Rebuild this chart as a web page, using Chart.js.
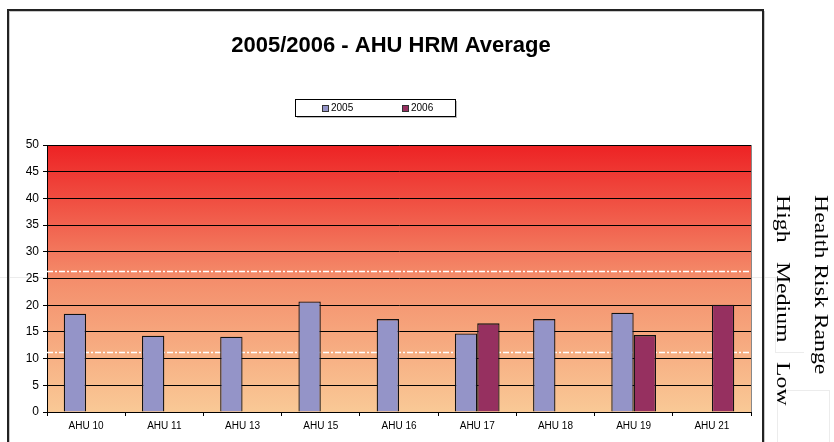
<!DOCTYPE html>
<html>
<head>
<meta charset="utf-8">
<script src="https://cdn.jsdelivr.net/npm/chart.js@4.4.1/dist/chart.umd.min.js"></script>
<style>
  body { margin: 0; background: #fff; }
  #wrap { position: relative; width: 834px; height: 442px; overflow: hidden; }
  #chart { position: absolute; left: 0; top: 0; z-index: 2; }
  .ghost { position: absolute; border: 1px solid #ececec; z-index: 1; }
  .side {
    position: absolute; z-index: 3; writing-mode: vertical-rl; white-space: nowrap;
    font-family: "Liberation Serif", "Times New Roman", serif; font-size: 19px; line-height: 20px;
    width: 20px; color: #000; transform-origin: top center; transform: scaleY(1.25);
  }
</style>
</head>
<body>
<div id="wrap">
  <div class="ghost" style="left:-2px; top:277px; width:780px; height:0; border-width:1px 0 0 0;"></div>
  <div class="ghost" style="left:775px; top:277px; width:28px; height:75px; border-width:0 0 1px 1px;"></div>
  <div class="ghost" style="left:777px; top:390px; width:51px; height:60px;"></div>
  <canvas id="chart" width="834" height="442"></canvas>
  <div class="side" style="left:811px; top:195px;">Health Risk Range</div>
  <div class="side" style="left:773px; top:195px;">High</div>
  <div class="side" style="left:773px; top:262px;">Medium</div>
  <div class="side" style="left:773px; top:362px;">Low</div>
</div>
<script>
const chartTitle = "2005/2006 - AHU HRM Average";
const categories = ["AHU 10", "AHU 11", "AHU 13", "AHU 15", "AHU 16", "AHU 17", "AHU 18", "AHU 19", "AHU 21"];
const values2005 = [18.4, 14.3, 14.1, 20.7, 17.4, 14.7, 17.4, 18.6, null];
const values2006 = [null, null, null, null, null, 16.6, null, 14.4, 20.1];
const riskLimits = [11.3, 26.4]; // low/medium and medium/high borders

// gradient behind the bars, plus the outer frame
const backdrop = {
  id: "backdrop",
  beforeDraw(chart) {
    const { ctx, chartArea: a } = chart;
    ctx.save();
    const g = ctx.createLinearGradient(0, a.top, 0, a.bottom);
    g.addColorStop(0, "#ED2224");
    g.addColorStop(0.5, "#F48D6B");
    g.addColorStop(1, "#F9C996");
    ctx.fillStyle = g;
    ctx.fillRect(a.left, a.top, a.right - a.left, a.bottom - a.top);
    ctx.strokeStyle = "#c8c8c8";
    ctx.lineWidth = 1;
    ctx.strokeRect(9.5, 11.5, 755, 500);
    ctx.strokeStyle = "#222";
    ctx.lineWidth = 2;
    ctx.strokeRect(8, 10, 755, 500);
    ctx.restore();
  },
  beforeDatasetsDraw(chart) {
    const { ctx, chartArea: a, scales } = chart;
    ctx.save();
    ctx.strokeStyle = "#fff";
    ctx.lineWidth = 1.5;
    ctx.setLineDash([6, 2, 2, 2]);
    riskLimits.forEach(v => {
      const y = Math.round(scales.y.getPixelForValue(v)) + 0.5;
      ctx.beginPath();
      ctx.moveTo(a.left, y);
      ctx.lineTo(a.right, y);
      ctx.stroke();
    });
    ctx.setLineDash([]);
    ctx.strokeStyle = "#888";
    ctx.lineWidth = 1;
    ctx.beginPath();
    ctx.moveTo(Math.round(a.right) + 0.5, a.top);
    ctx.lineTo(Math.round(a.right) + 0.5, a.bottom);
    ctx.stroke();
    ctx.restore();
  },
  afterDraw(chart) {
    const { ctx } = chart;
    ctx.save();
    ctx.fillStyle = "#000";
    ctx.font = "bold 22px 'Liberation Sans', Arial, sans-serif";
    ctx.textAlign = "center";
    ctx.textBaseline = "middle";
    ctx.fillText(chartTitle, 391, 46);

    // legend box
    ctx.fillStyle = "#bbb";
    ctx.fillRect(297, 101, 160, 17);
    ctx.fillStyle = "#fff";
    ctx.fillRect(295, 99, 160, 17);
    ctx.strokeStyle = "#000";
    ctx.lineWidth = 1;
    ctx.strokeRect(295.5, 99.5, 160, 17);
    ctx.font = "10px 'Liberation Sans', Arial, sans-serif";
    ctx.textAlign = "left";
    chart.data.datasets.forEach((ds, i) => {
      const x = 322 + i * 80;
      ctx.fillStyle = ds.backgroundColor;
      ctx.fillRect(x, 105, 6, 6);
      ctx.strokeStyle = "#333";
      ctx.strokeRect(x + 0.5, 105.5, 6, 6);
      ctx.fillStyle = "#000";
      ctx.fillText(ds.label, x + 9, 108.5);
    });
    ctx.restore();
  }
};

new Chart(document.getElementById("chart"), {
  type: "bar",
  data: {
    labels: categories,
    datasets: [
      { label: "2005", data: values2005, backgroundColor: "#9494C8", borderColor: "#111", borderWidth: 1.3 },
      { label: "2006", data: values2006, backgroundColor: "#963060", borderColor: "#111", borderWidth: 1.3 }
    ]
  },
  options: {
    responsive: false,
    animation: false,
    events: [],
    layout: { padding: { left: 7, right: 83, top: 145, bottom: 0 } },
    datasets: { bar: { categoryPercentage: 2 / 3.5, barPercentage: 1, borderSkipped: "bottom" } },
    plugins: { legend: { display: false }, title: { display: false }, tooltip: { enabled: false } },
    scales: {
      x: {
        grid: { display: true, drawOnChartArea: false, drawTicks: true, tickLength: 4, color: "#000", offset: true },
        border: { display: true, color: "#000", width: 1 },
        ticks: { color: "#000", padding: 4, font: { family: "'Liberation Sans', Arial, sans-serif", size: 10 }, maxRotation: 0 },
        afterFit(s) { s.height = 30; }
      },
      y: {
        min: 0,
        max: 50,
        ticks: { stepSize: 5, color: "#000", padding: 4, font: { family: "'Liberation Sans', Arial, sans-serif", size: 12 } },
        grid: { color: "#000", lineWidth: 1, tickLength: 4 },
        border: { display: true, color: "#000", width: 1 },
        afterFit(s) { s.width = 40; }
      }
    }
  },
  plugins: [backdrop]
});
</script>
</body>
</html>
